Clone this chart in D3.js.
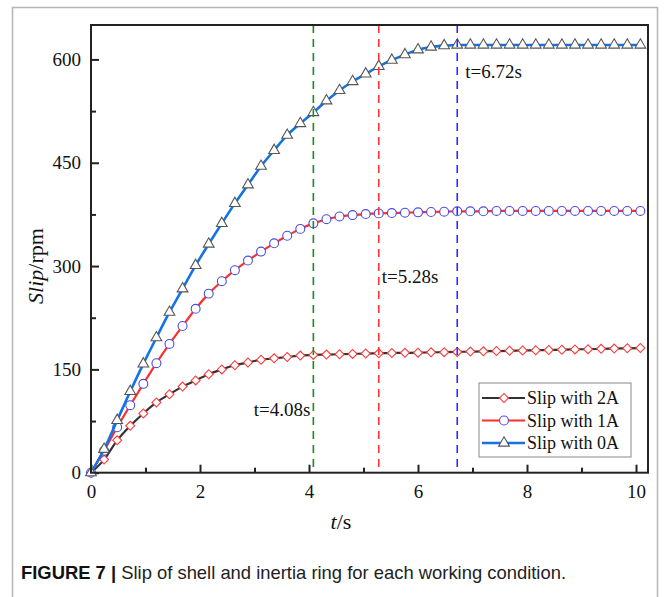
<!DOCTYPE html>
<html>
<head>
<meta charset="utf-8">
<script src="https://cdn.jsdelivr.net/npm/d3@7"></script>
<style>
  body { margin: 0; background: #fff; }
  #chart_container { width: 665px; height: 597px; }
  .tick text { font-family: "Liberation Serif", "Times New Roman", serif; font-size: 19px; fill: #111; }
  .axis-title { font-family: "Liberation Serif", serif; font-size: 22px; fill: #111; }
  .note { font-family: "Liberation Serif", serif; font-size: 19px; fill: #111; }
  .legend { font-family: "Liberation Serif", serif; font-size: 18px; fill: #111; }
  .caption { font-family: "Liberation Sans", Arial, sans-serif; font-size: 18.5px; fill: #222; }
</style>
</head>
<body>
<div id="chart_container"></div>
<script>
// sample times (s)
const times = [0, 0.24, 0.48, 0.72, 0.96, 1.2, 1.44, 1.68, 1.92, 2.16, 2.4, 2.64, 2.88, 3.12,
  3.36, 3.6, 3.84, 4.08, 4.32, 4.56, 4.8, 5.04, 5.28, 5.52, 5.76, 6.0, 6.24, 6.48, 6.72,
  6.96, 7.2, 7.44, 7.68, 7.92, 8.16, 8.4, 8.64, 8.88, 9.12, 9.36, 9.6, 9.84, 10.08];

// slip (rpm)
const slip2A = [0, 19, 47, 68, 86, 102, 114, 125, 134, 143, 150, 156, 160, 164, 166, 168, 170, 171,
  171.5, 172, 172.5, 173, 173.3, 173.7, 174, 174.3, 174.7, 175, 175.4, 175.8, 176.2, 176.6, 177,
  177.4, 177.8, 178.2, 178.6, 179, 179.4, 179.8, 180.2, 180.6, 181];
const slip1A = [0, 32, 66, 98, 129, 159, 187, 213, 238, 260, 278, 294, 308, 321, 333, 344, 354, 362,
  368, 372, 374, 375.5, 376.5, 377, 377.5, 378, 378.5, 379, 379.5, 379.5, 379.5, 380, 380, 380,
  380, 380, 380, 380, 380, 380, 380, 380, 380];
const slip0A = [0, 34, 76, 118, 158, 196, 233, 267, 301, 332, 362, 391, 418, 445, 468, 490, 507, 523,
  540, 555, 568, 579, 590, 599, 607, 614, 618, 620, 621, 621, 621, 621, 621, 621, 621, 621, 621,
  621, 621, 621, 621, 621, 621];

const seriesNames = ["Slip with 2A", "Slip with 1A", "Slip with 0A"];
const xTicks = [0, 2, 4, 6, 8, 10];
const xMinorTicks = [1, 3, 5, 7, 9];
const yTicks = [0, 150, 300, 450, 600];
const yMinorTicks = [75, 225, 375, 525];
const markTimes = [4.08, 5.28, 6.72];
const markLabels = ["t=4.08s", "t=5.28s", "t=6.72s"];

const serif = "'Liberation Serif', 'Times New Roman', serif";

const margin = { top: 25, right: 17, bottom: 124.3, left: 91 };
const width = 665 - margin.left - margin.right;
const height = 597 - margin.top - margin.bottom;

const root = d3.select("#chart_container")
  .append("svg")
  .attr("width", 665)
  .attr("height", 597);

// outer figure frame
root.append("rect")
  .attr("x", 12.5).attr("y", 7.5)
  .attr("width", 645).attr("height", 620)
  .attr("fill", "none")
  .attr("stroke", "#b4b4b4")
  .attr("stroke-width", 1.5);

const svg = root.append("g")
  .attr("transform", `translate(${margin.left}, ${margin.top})`);

const x = d3.scaleLinear().domain([0, 10.22]).range([0, width]);
const y = d3.scaleLinear().domain([0, 650]).range([height, 0]);

// axes (ticks point inward)
svg.append("g")
  .attr("transform", `translate(0, ${height})`)
  .call(d3.axisBottom(x).tickValues(xTicks).tickSize(-8).tickPadding(12));
svg.append("g")
  .attr("transform", `translate(0, ${height})`)
  .call(d3.axisBottom(x).tickValues(xMinorTicks).tickSize(-5).tickFormat(""));
svg.append("g")
  .call(d3.axisLeft(y).tickValues(yTicks).tickSize(-8).tickPadding(10));
svg.append("g")
  .call(d3.axisLeft(y).tickValues(yMinorTicks).tickSize(-5).tickFormat(""));
svg.selectAll(".domain").remove();
svg.selectAll(".tick line").attr("stroke", "#222").attr("stroke-width", 2);

const series = [
  { name: seriesNames[0], values: slip2A, line: "#333333", mark: "#ff3b3b", shape: "diamond", lw: 2.2 },
  { name: seriesNames[1], values: slip1A, line: "#ff2d2d", mark: "#4c4ce0", shape: "circle", lw: 2.2 },
  { name: seriesNames[2], values: slip0A, line: "#1173e6", mark: "#555555", shape: "triangle", lw: 2.6 }
];

const symbolFor = (shape) => {
  if (shape === "diamond") return d3.symbol().type(d3.symbolSquare).size(40)();
  if (shape === "circle") return d3.symbol().type(d3.symbolCircle).size(62)();
  return d3.symbol().type(d3.symbolTriangle).size(50)();
};

const line = d3.line()
  .x((d, i) => x(times[i]))
  .y((d) => y(d))
  .curve(d3.curveMonotoneX);

series.forEach((s) => {
  const g = svg.append("g");
  g.append("path")
    .attr("d", line(s.values))
    .attr("fill", "none")
    .attr("stroke", s.line)
    .attr("stroke-width", s.lw);
  g.selectAll("path.mk")
    .data(s.values)
    .join("path")
    .attr("class", "mk")
    .attr("d", symbolFor(s.shape))
    .attr("transform", (d, i) =>
      `translate(${x(times[i])}, ${y(d)})` + (s.shape === "diamond" ? " rotate(45)" : ""))
    .attr("fill", "#fff")
    .attr("stroke", s.mark)
    .attr("stroke-width", 1.1);
});

// dashed time markers
const markColors = ["#1a8a1a", "#ff3333", "#2a2aff"];
svg.append("g")
  .selectAll("line")
  .data(markTimes)
  .join("line")
  .attr("x1", (d) => x(d)).attr("x2", (d) => x(d))
  .attr("y1", 0).attr("y2", height)
  .attr("stroke", (d, i) => markColors[i])
  .attr("stroke-width", 1.6)
  .attr("stroke-dasharray", "8,6");

// annotations
const notes = svg.append("g")
  .attr("font-family", serif)
  .attr("font-size", 19)
  .attr("fill", "#111");
notes.append("text")
  .attr("x", x(4.08) - 3).attr("y", y(83))
  .attr("text-anchor", "end").text(markLabels[0]);
notes.append("text")
  .attr("x", x(5.28) + 3).attr("y", y(275))
  .text(markLabels[1]);
notes.append("text")
  .attr("x", x(6.72) + 8).attr("y", y(573))
  .text(markLabels[2]);

// plot frame
svg.append("rect")
  .attr("width", width).attr("height", height)
  .attr("fill", "none")
  .attr("stroke", "#222")
  .attr("stroke-width", 2);

// legend
const lg = svg.append("g").attr("transform", `translate(${479 - margin.left}, ${383 - margin.top})`);
lg.append("rect")
  .attr("width", 152).attr("height", 74)
  .attr("fill", "#fff")
  .attr("stroke", "#888")
  .attr("stroke-width", 1);
series.forEach((s, i) => {
  const cy = 15 + i * 22.5;
  lg.append("line")
    .attr("x1", 3).attr("x2", 46)
    .attr("y1", cy).attr("y2", cy)
    .attr("stroke", s.line).attr("stroke-width", s.lw);
  lg.append("path")
    .attr("d", symbolFor(s.shape))
    .attr("transform", `translate(25, ${cy})` + (s.shape === "diamond" ? " rotate(45)" : ""))
    .attr("fill", "#fff")
    .attr("stroke", s.mark)
    .attr("stroke-width", 1.1);
  lg.append("text")
    .attr("class", "legend")
    .attr("x", 48).attr("y", cy + 6)
    .text(s.name);
});

// axis titles
const yTitle = root.append("text")
  .attr("class", "axis-title")
  .attr("font-size", 24)
  .attr("transform", `translate(43, ${margin.top + y(300)}) rotate(-90)`)
  .attr("text-anchor", "middle");
yTitle.append("tspan").attr("font-style", "italic").text("Slip");
yTitle.append("tspan").text("/rpm");

const xTitle = root.append("text")
  .attr("class", "axis-title")
  .attr("x", 341).attr("y", 529)
  .attr("text-anchor", "middle");
xTitle.append("tspan").attr("font-style", "italic").text("t");
xTitle.append("tspan").text("/s");

// caption
const cap = root.append("text")
  .attr("class", "caption")
  .attr("x", 21).attr("y", 579)
  .attr("textLength", 545)
  .attr("lengthAdjust", "spacingAndGlyphs");
cap.append("tspan").attr("font-weight", "bold").attr("fill", "#111").text("FIGURE 7 | ");
cap.append("tspan").text("Slip of shell and inertia ring for each working condition.");
</script>
</body>
</html>
